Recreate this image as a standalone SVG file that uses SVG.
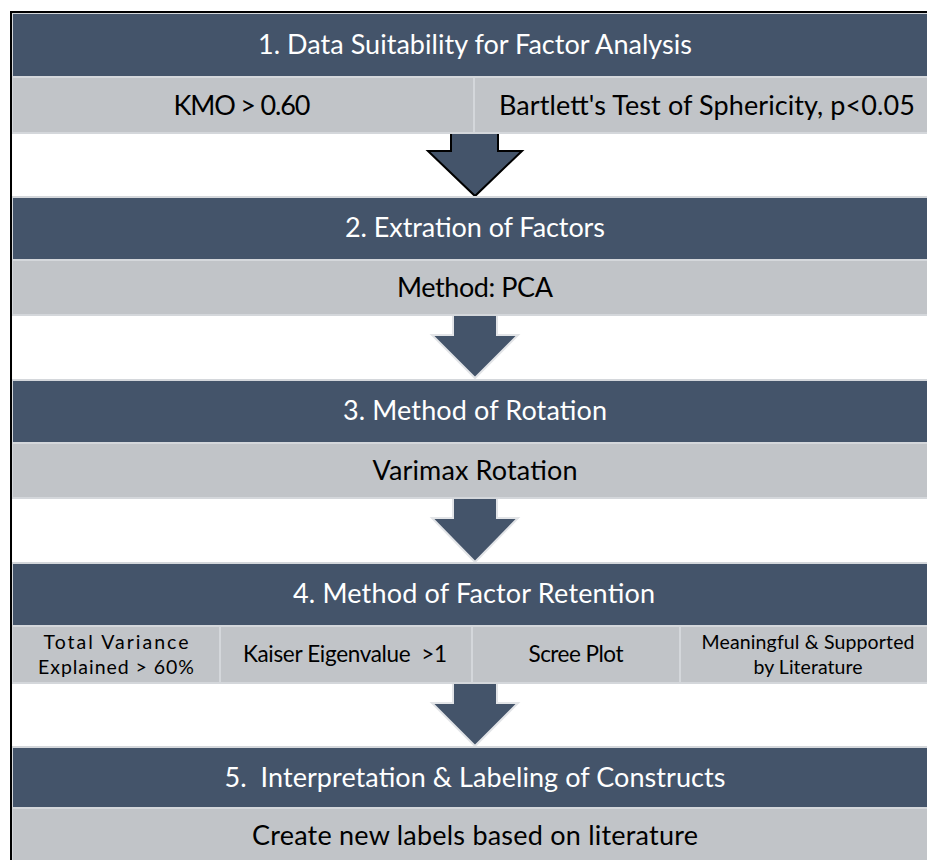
<svg xmlns="http://www.w3.org/2000/svg" width="927" height="860" viewBox="0 0 927 860">
<style>
.hdr{fill:#44546A;stroke:#D4D7DB;stroke-width:2}
.sub{fill:#C1C4C8;stroke:#D4D7DB;stroke-width:2}
.ht{font-family:Lato,Carlito,"Liberation Sans",sans-serif;font-size:27px;fill:#FFFFFF;text-anchor:middle;white-space:pre}
.st{font-family:Lato,Carlito,"Liberation Sans",sans-serif;font-size:27px;fill:#000000;text-anchor:middle;white-space:pre}
.sm{font-size:22.5px}
.xs{font-size:19.5px}
.arr{fill:#44546A;stroke:#E2E4E7;stroke-width:2}
.arr1{fill:#44546A;stroke:#000000;stroke-width:2}
</style>
<rect x="0" y="0" width="927" height="860" fill="#FFFFFF"/>
<g id="connectors">
<polygon class="arr1" points="451,128 498,128 498,151 522,151 475,196 428,151 451,151"/>
<polygon class="arr" points="453,312 497,312 497,335 518,335 475,378 432,335 453,335"/>
<polygon class="arr" points="453,495 497,495 497,518 518,518 475,562 432,518 453,518"/>
<polygon class="arr" points="453,680 497,680 497,703 518,703 475,746 432,703 453,703"/>
</g>
<g id="step1">
<rect class="hdr" x="12" y="13" width="930" height="64"/>
<text class="ht" x="475" y="54" textLength="434">1. Data Suitability for Factor Analysis</text>
</g>
<g id="step1a">
<rect class="sub" x="12" y="77" width="462" height="56"/>
<text class="st" x="242" y="115" textLength="137">KMO &gt; 0.60</text>
</g>
<g id="step1b">
<rect class="sub" x="474" y="77" width="468" height="56"/>
<text class="st" x="707" y="115" textLength="416">Bartlett's Test of Sphericity, p&lt;0.05</text>
</g>
<g id="step2">
<rect class="hdr" x="12" y="197" width="930" height="63"/>
<text class="ht" x="475" y="237" textLength="260">2. Extration of Factors</text>
</g>
<g id="step2a">
<rect class="sub" x="12" y="260" width="930" height="55"/>
<text class="st" x="475" y="297" textLength="156">Method: PCA</text>
</g>
<g id="step3">
<rect class="hdr" x="12" y="380" width="930" height="63"/>
<text class="ht" x="475" y="420" textLength="264">3. Method of Rotation</text>
</g>
<g id="step3a">
<rect class="sub" x="12" y="443" width="930" height="55"/>
<text class="st" x="475" y="480" textLength="205">Varimax Rotation</text>
</g>
<g id="step4">
<rect class="hdr" x="12" y="563" width="930" height="63"/>
<text class="ht" x="474" y="603" textLength="362">4. Method of Factor Retention</text>
</g>
<g id="step4a">
<rect class="sub" x="12" y="626" width="208" height="57"/>
<text class="st xs" x="116" y="649" textLength="145">Total Variance</text>
<text class="st xs" x="116" y="674" textLength="156">Explained &gt; 60%</text>
</g>
<g id="step4b">
<rect class="sub" x="220" y="626" width="252" height="57"/>
<text class="st sm" x="345" y="662" textLength="204">Kaiser Eigenvalue  &gt;1</text>
</g>
<g id="step4c">
<rect class="sub" x="472" y="626" width="208" height="57"/>
<text class="st sm" x="576" y="662" textLength="95">Scree Plot</text>
</g>
<g id="step4d">
<rect class="sub" x="680" y="626" width="262" height="57"/>
<text class="st xs" x="808" y="649" textLength="213">Meaningful &amp; Supported</text>
<text class="st xs" x="808" y="674" textLength="109">by Literature</text>
</g>
<g id="step5">
<rect class="hdr" x="12" y="747" width="930" height="61"/>
<text class="ht" x="475" y="787" textLength="501">5.  Interpretation &amp; Labeling of Constructs</text>
</g>
<g id="step5a">
<rect class="sub" x="12" y="808" width="930" height="60"/>
<text class="st" x="475" y="845" textLength="446">Create new labels based on literature</text>
</g>
<rect x="11" y="12" width="940" height="870" fill="none" stroke="#000000" stroke-width="2"/>
</svg>
